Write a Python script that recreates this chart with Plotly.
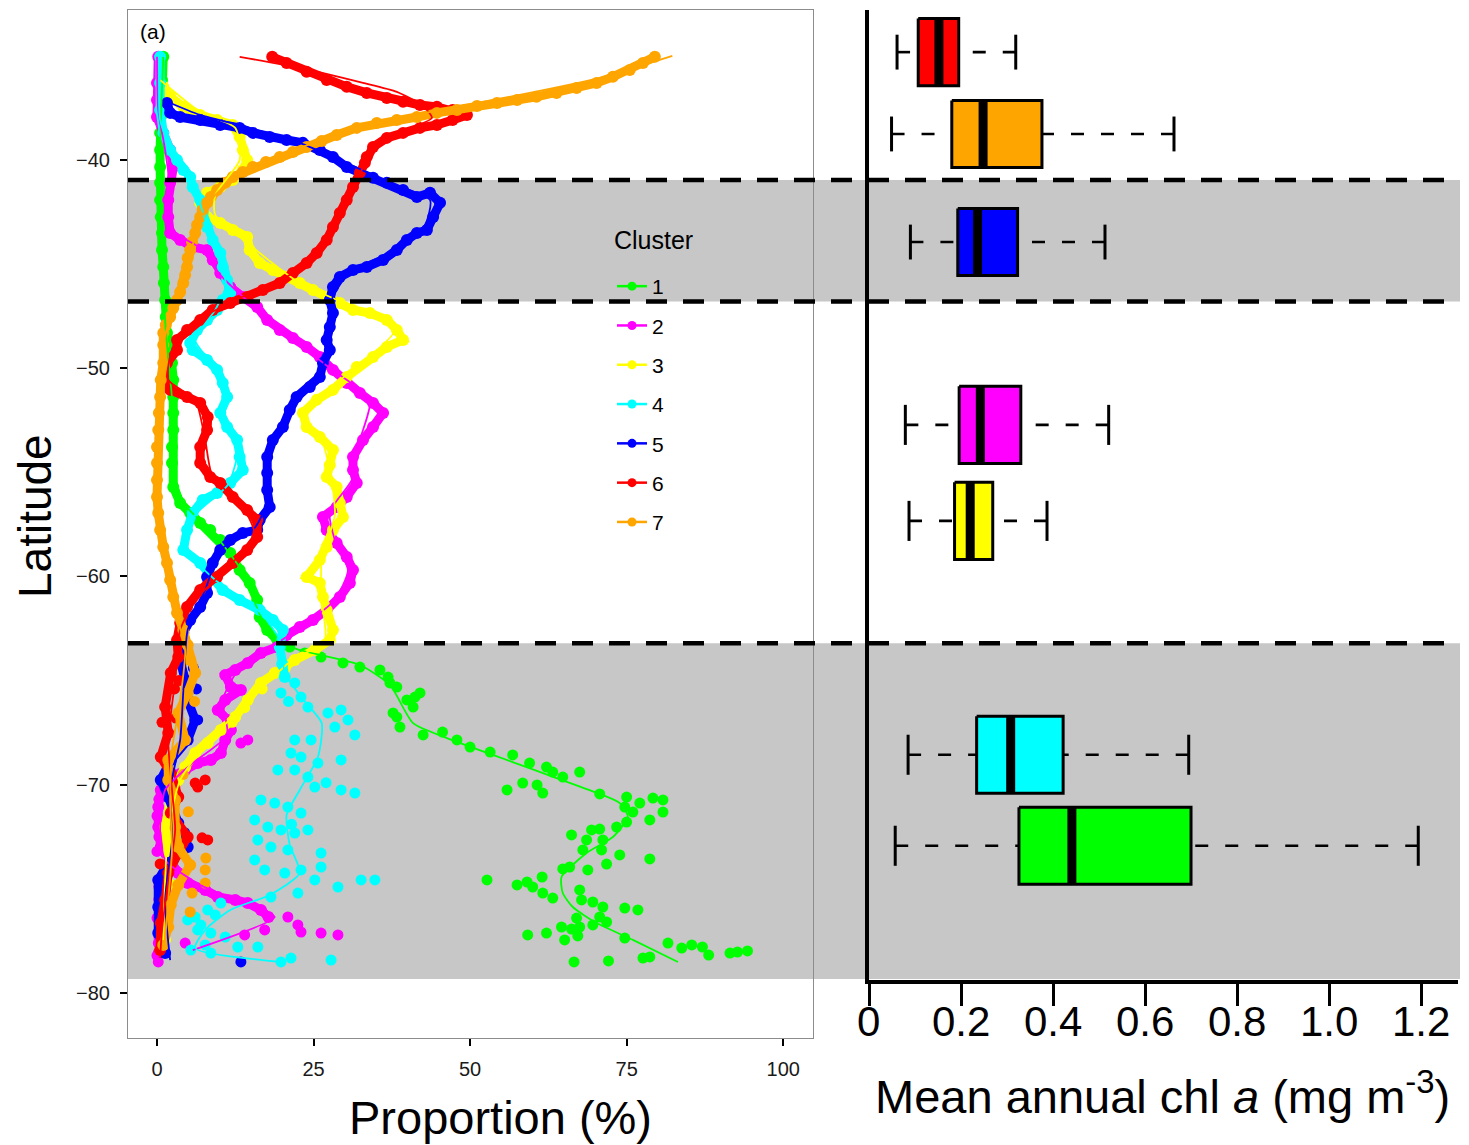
import plotly.graph_objects as go

W, H = 1469, 1145
FONT = "Liberation Sans, Arial, Helvetica, sans-serif"

# ---------------- data ----------------
cluster_names = ["1", "2", "3", "4", "5", "6", "7"]
cluster_colors = ["#00FF00", "#FF00FF", "#FFFF00", "#00FFFF", "#0000FF", "#FF0000", "#FFA500"]

# (latitude, proportion %) read along each cluster's dense chain of points
c1_chain = [(-35.05, 1.0), (-36.16, 0.8), (-37.12, 0.8), (-37.94, 0.6), (-38.70, 0.5), (-39.52, 0.5),
            (-40.34, 0.5), (-41.10, 0.5), (-41.92, 0.5), (-42.74, 0.6), (-43.51, 0.8), (-44.32, 0.8),
            (-45.14, 1.0), (-45.91, 1.1), (-46.72, 1.3), (-47.54, 1.4), (-48.31, 1.6), (-48.98, 2.1),
            (-49.75, 2.4), (-50.56, 2.6), (-51.38, 2.6), (-52.15, 2.6), (-52.97, 2.6), (-53.78, 2.4),
            (-54.55, 2.4), (-55.70, 2.6), (-56.47, 3.7), (-56.95, 5.3), (-57.43, 6.9), (-57.77, 8.5),
            (-58.25, 10.1), (-58.87, 11.7), (-59.69, 13.2), (-60.31, 14.8), (-61.13, 16.0), (-61.94, 16.4),
            (-62.57, 17.6), (-63.05, 19.2)]
c1_scatter = [(-63.39, 21.2), (-63.67, 23.6), (-63.87, 26.2), (-64.15, 29.7), (-64.35, 32.4), (-64.49, 35.6),
              (-64.83, 36.9), (-65.11, 37.2), (-65.31, 38.3), (-65.79, 41.2), (-65.93, 39.9), (-65.59, 42.0),
              (-66.27, 40.9), (-66.55, 37.7), (-66.75, 38.3), (-67.23, 38.8), (-67.61, 42.5), (-67.47, 45.6),
              (-67.85, 47.9), (-68.19, 50.0), (-68.43, 53.2), (-68.57, 56.8), (-68.96, 59.5), (-69.15, 62.2),
              (-69.39, 63.2), (-69.63, 64.8), (-69.39, 67.5), (-70.25, 55.9), (-69.92, 58.4), (-70.01, 60.7),
              (-70.40, 61.6), (-70.44, 70.7), (-70.59, 75.0), (-70.88, 77.1), (-70.64, 79.2), (-70.73, 80.8),
              (-71.07, 74.7), (-71.31, 76.0), (-71.31, 80.8), (-71.69, 78.7), (-71.79, 75.0), (-72.03, 73.4),
              (-72.13, 70.7), (-72.17, 69.4), (-72.41, 66.2), (-72.65, 68.6), (-72.65, 71.2), (-73.13, 68.0),
              (-73.13, 71.0), (-73.37, 73.9), (-73.81, 71.8), (-74.04, 64.8), (-73.95, 65.9), (-74.09, 68.8),
              (-73.56, 78.7), (-74.57, 52.7), (-74.81, 57.5), (-74.67, 59.1), (-74.43, 61.5), (-74.91, 60.0),
              (-75.20, 61.6), (-75.44, 63.2), (-75.05, 67.5), (-75.53, 67.8), (-75.63, 69.6), (-75.87, 71.2),
              (-75.92, 74.7), (-76.01, 76.8), (-76.40, 67.0), (-76.35, 70.7), (-76.59, 71.8), (-76.73, 69.6),
              (-76.83, 67.5), (-77.21, 59.2), (-77.12, 62.2), (-76.83, 64.6), (-76.93, 66.2), (-77.45, 65.1),
              (-77.26, 67.2), (-77.36, 74.7), (-77.60, 81.6), (-77.84, 83.8), (-77.69, 85.4), (-77.79, 87.1),
              (-78.18, 88.1), (-78.08, 91.5), (-78.03, 92.7), (-77.98, 94.3), (-78.32, 77.6), (-78.27, 78.7),
              (-78.46, 72.1), (-78.51, 66.6)]
c1_fit = [(-35.05, 1.0), (-39.52, 0.5), (-44.32, 0.8), (-48.16, 1.4), (-51.52, 2.4), (-54.89, 2.6),
          (-56.57, 4.5), (-58.01, 9.3), (-59.93, 14.0), (-61.61, 16.1), (-63.05, 18.8), (-63.53, 22.8),
          (-64.25, 32.4), (-65.21, 37.2), (-67.04, 40.9), (-67.76, 46.3), (-68.91, 56.8), (-69.68, 63.8),
          (-70.44, 70.7), (-70.88, 73.9), (-71.55, 75.2), (-72.51, 72.8), (-73.28, 68.6), (-74.43, 64.6),
          (-75.20, 64.8), (-75.87, 66.4), (-76.64, 70.2), (-77.45, 76.0), (-78.51, 83.2)]

c2_chain = [(-35.05, 0.2), (-36.30, 0.0), (-37.12, 0.0), (-37.94, 0.0), (-38.70, 1.0), (-39.52, 2.1),
            (-40.34, 2.6), (-41.10, 2.1), (-41.92, 1.8), (-42.74, 1.8), (-43.51, 2.1), (-43.84, 3.7),
            (-44.18, 5.7), (-44.32, 8.0), (-44.80, 8.9), (-45.43, 10.1), (-46.10, 11.7), (-46.58, 13.7),
            (-47.06, 16.0), (-47.68, 17.6), (-48.16, 19.6), (-48.55, 21.7), (-48.98, 23.9), (-49.46, 26.0),
            (-50.08, 28.1), (-50.71, 30.3), (-51.19, 32.4), (-51.67, 34.5), (-52.15, 36.1), (-52.82, 34.5),
            (-53.45, 32.9), (-54.26, 31.3), (-54.89, 31.3), (-55.51, 31.9), (-56.18, 30.3), (-56.66, 28.7),
            (-57.14, 26.5), (-57.77, 27.1), (-58.39, 28.7), (-59.06, 30.3), (-59.69, 31.3), (-60.31, 30.8),
            (-60.98, 29.2), (-61.61, 27.1), (-62.09, 24.9), (-62.43, 22.8), (-62.81, 20.7), (-63.39, 19.2),
            (-63.67, 16.6), (-64.15, 14.5), (-64.49, 12.5), (-64.73, 10.9), (-65.31, 11.8), (-65.45, 13.4),
            (-65.93, 10.9), (-66.41, 9.7), (-66.89, 11.3), (-67.37, 11.8), (-67.85, 10.9), (-68.48, 10.2),
            (-68.81, 8.6), (-68.96, 6.5), (-69.29, 4.5), (-69.63, 2.2), (-70.25, 0.6), (-71.07, 0.2),
            (-72.03, 0.2), (-72.99, 0.6), (-73.61, 1.8), (-74.24, 3.4), (-74.72, 4.9), (-75.05, 7.7),
            (-75.39, 9.7), (-75.53, 12.5), (-75.68, 14.5), (-76.01, 16.6), (-76.35, 17.8)]
c2_scatter = [(-68.00, 13.4), (-67.85, 14.5), (-76.35, 20.9), (-76.73, 22.5), (-77.07, 23.0), (-77.12, 26.2),
              (-77.21, 28.9), (-76.97, 17.2), (-77.21, 14.0), (-77.60, 4.5), (-78.08, 0.2), (-78.51, 0.2),
              (-77.60, 0.2), (-76.90, 0.4), (-75.90, 0.2), (-74.90, 0.3), (-70.70, 0.3), (-71.50, 0.0),
              (-72.50, 0.3), (-73.20, 0.0), (-74.60, 0.2), (-75.50, 0.3), (-76.40, 0.0), (-77.30, 0.3),
              (-78.20, 0.0), (-70.0, 3.0), (-71.9, 1.5)]
c2_fit = [(-35.05, 0.0), (-37.60, 0.2), (-39.52, 1.3), (-41.44, 2.1), (-43.36, 2.4), (-44.23, 6.9),
          (-45.52, 10.1), (-46.87, 14.8), (-48.31, 20.4), (-49.99, 27.6), (-51.52, 34.0), (-53.45, 32.4),
          (-55.37, 31.1), (-56.90, 27.6), (-58.25, 28.4), (-59.69, 30.5), (-61.13, 28.4), (-62.47, 22.8),
          (-63.43, 18.0), (-64.39, 13.2), (-65.93, 10.5), (-67.61, 11.2), (-69.05, 5.3), (-70.25, 1.3),
          (-72.17, 0.5), (-73.61, 1.3), (-74.81, 6.9), (-75.77, 14.8), (-76.35, 18.8), (-77.94, 5.7)]

c3_chain = [(-36.49, 1.0), (-36.97, 2.1), (-37.45, 4.2), (-37.84, 6.9), (-38.08, 9.6), (-38.32, 12.1),
            (-38.90, 13.2), (-39.52, 13.7), (-40.00, 14.4), (-40.48, 13.7), (-40.96, 12.1), (-41.30, 10.1),
            (-41.58, 8.0), (-42.06, 6.9), (-42.74, 8.0), (-43.03, 10.1), (-43.36, 12.1), (-43.70, 14.4),
            (-44.32, 14.8), (-44.95, 16.4), (-45.28, 18.5), (-45.62, 20.7), (-45.91, 22.8), (-46.24, 24.9),
            (-46.58, 27.1), (-46.87, 29.2), (-47.20, 31.3), (-47.35, 34.0), (-47.68, 36.7), (-48.16, 38.3),
            (-48.64, 39.3), (-48.98, 36.7), (-49.46, 34.5), (-49.94, 31.9), (-50.42, 30.3), (-51.04, 28.1),
            (-51.52, 25.5), (-52.15, 23.3), (-52.82, 23.9), (-53.30, 26.0), (-53.93, 28.1), (-54.65, 27.6),
            (-55.22, 27.1), (-55.70, 28.7), (-56.47, 29.2), (-57.14, 29.7), (-57.77, 28.1), (-58.58, 27.1),
            (-59.21, 26.0), (-60.02, 23.9), (-60.31, 26.0), (-60.98, 26.5), (-61.61, 27.1), (-62.57, 28.1),
            (-63.05, 27.6), (-63.53, 25.2), (-64.01, 22.0), (-64.63, 18.8), (-65.11, 16.6), (-65.93, 14.5),
            (-66.75, 12.5), (-67.37, 10.2), (-68.00, 8.1), (-68.48, 6.1), (-69.15, 4.5), (-69.77, 3.4),
            (-70.73, 2.2), (-72.03, 1.3), (-73.28, 1.8), (-74.24, 1.3), (-75.20, 0.6), (-76.49, 0.6),
            (-77.45, 1.3)]
c3_scatter = [(-64.4, 20.5), (-65.4, 16.8), (-66.3, 14.0), (-67.0, 12.0), (-71.4, 2.5), (-74.8, 2.3),
              (-76.0, 1.8), (-77.9, 0.8)]
c3_fit = [(-36.16, 0.5), (-37.69, 6.9), (-38.46, 12.5), (-40.00, 13.2), (-41.68, 9.3), (-42.64, 9.3),
          (-44.08, 14.8), (-45.91, 22.8), (-47.20, 32.4), (-48.16, 38.0), (-49.84, 32.4), (-51.28, 26.0),
          (-52.25, 22.8), (-53.45, 26.3), (-55.37, 27.9), (-57.05, 28.4), (-59.21, 26.3), (-61.13, 26.3),
          (-63.05, 26.8), (-64.11, 21.2), (-65.93, 14.8), (-68.09, 7.7), (-69.77, 3.7), (-72.17, 1.8),
          (-74.57, 1.3), (-77.45, 1.0)]

c4_chain = [(-35.05, 0.5), (-36.30, 0.5), (-37.60, 0.5), (-38.70, 1.0), (-39.52, 2.1), (-40.00, 3.2),
            (-40.48, 4.2), (-40.82, 5.3), (-41.30, 5.7), (-41.92, 6.9), (-42.55, 7.3), (-43.22, 8.0),
            (-43.84, 8.9), (-44.47, 10.1), (-45.14, 10.5), (-45.76, 11.2), (-46.39, 11.7), (-46.72, 10.5),
            (-47.20, 9.6), (-47.68, 8.0), (-48.16, 6.4), (-48.79, 5.3), (-49.12, 5.7), (-49.60, 8.0),
            (-50.08, 9.6), (-50.71, 10.5), (-51.38, 11.2), (-52.15, 10.1), (-52.82, 11.2), (-53.45, 12.8),
            (-54.26, 13.2), (-54.89, 13.7), (-55.51, 11.7), (-55.99, 9.6), (-56.33, 7.3), (-56.95, 5.7),
            (-57.77, 4.8), (-58.73, 4.2), (-59.35, 6.9), (-60.02, 8.9), (-60.65, 10.5), (-61.13, 13.2),
            (-61.61, 16.4), (-62.09, 18.5), (-62.57, 20.1), (-63.39, 19.6), (-64.20, 20.0), (-64.83, 20.4)]
c4_scatter = [(-65.11, 22.0), (-65.59, 19.8), (-65.79, 23.0), (-66.27, 24.1), (-66.55, 27.3), (-66.41, 29.4),
              (-66.89, 30.5), (-67.23, 28.4), (-67.61, 31.6), (-67.85, 22.0), (-67.85, 24.6), (-68.48, 21.4),
              (-68.67, 23.0), (-68.96, 25.7), (-68.81, 29.4), (-69.29, 19.3), (-69.29, 22.0), (-69.63, 24.1),
              (-70.11, 25.2), (-70.25, 29.4), (-70.40, 31.6), (-70.73, 16.6), (-70.88, 18.8), (-71.07, 20.9),
              (-71.36, 23.0), (-71.69, 15.6), (-72.03, 17.7), (-72.17, 19.8), (-72.32, 22.0), (-72.17, 24.1),
              (-72.65, 16.1), (-72.99, 18.2), (-73.13, 20.9), (-73.28, 26.2), (-73.61, 15.6), (-74.09, 17.2),
              (-74.24, 20.4), (-74.09, 23.0), (-73.95, 26.2), (-74.57, 25.2), (-74.91, 28.9), (-74.57, 32.6),
              (-74.57, 34.8), (-75.20, 22.5), (-75.39, 18.2), (-75.68, 10.2), (-76.01, 8.1), (-76.35, 6.1),
              (-76.97, 6.5), (-77.12, 8.6), (-77.94, 5.4), (-78.08, 8.6), (-77.79, 12.9), (-77.79, 16.1),
              (-78.51, 19.8), (-78.32, 21.4), (-78.42, 27.8), (-76.49, 4.9), (-76.73, 7.0), (-76.25, 9.3),
              (-77.69, 7.7), (-77.31, 10.9), (-66.0, 21.0), (-69.9, 27.0), (-71.9, 21.5)]
c4_fit = [(-35.05, 0.5), (-38.08, 0.5), (-40.00, 2.9), (-41.44, 6.1), (-42.88, 7.7), (-44.56, 9.7),
          (-46.00, 11.0), (-47.20, 9.3), (-48.64, 6.1), (-49.70, 8.5), (-51.04, 10.9), (-52.49, 10.9),
          (-53.93, 12.9), (-55.61, 11.3), (-57.05, 6.1), (-58.73, 4.9), (-60.17, 9.3), (-61.70, 16.4),
          (-63.05, 19.6), (-64.59, 20.4), (-65.79, 23.0), (-67.04, 26.3), (-68.67, 25.7), (-70.25, 22.8),
          (-71.45, 20.7), (-72.89, 21.2), (-74.24, 22.8), (-75.29, 18.0), (-76.01, 11.7), (-76.97, 7.7),
          (-77.84, 6.1), (-78.51, 19.8)]

c5_chain = [(-37.26, 1.6), (-37.74, 2.1), (-37.94, 3.7), (-38.08, 6.9), (-38.32, 10.1), (-38.46, 13.2),
            (-38.70, 15.3), (-38.90, 18.0), (-39.04, 20.7), (-39.18, 23.3), (-39.52, 26.0), (-39.86, 28.1),
            (-40.34, 30.3), (-40.62, 32.4), (-40.86, 34.5), (-41.10, 36.7), (-41.44, 39.3), (-41.78, 41.5),
            (-41.58, 43.6), (-42.06, 45.2), (-42.74, 44.1), (-43.36, 43.1), (-43.51, 41.5), (-43.84, 39.9),
            (-44.32, 38.3), (-44.80, 36.1), (-45.14, 33.5), (-45.28, 31.3), (-45.62, 29.2), (-46.10, 28.1),
            (-46.72, 27.6), (-47.35, 28.1), (-48.02, 27.6), (-48.64, 27.1), (-49.12, 27.6), (-49.75, 26.5),
            (-50.42, 26.0), (-50.90, 24.4), (-51.38, 22.3), (-52.01, 21.2), (-52.82, 20.1), (-53.45, 18.5),
            (-54.26, 17.6), (-55.03, 17.6), (-55.85, 17.6), (-56.66, 18.0), (-57.29, 16.4), (-57.77, 16.0),
            (-57.91, 13.7), (-58.25, 11.7), (-58.73, 10.1), (-59.35, 8.9), (-60.02, 8.0), (-60.79, 8.0),
            (-61.46, 6.9), (-62.09, 5.3), (-62.71, 4.2), (-63.39, 4.8), (-64.15, 3.8), (-64.97, 4.5),
            (-65.93, 4.9), (-66.89, 6.1), (-67.85, 4.9), (-68.81, 2.2), (-69.77, 0.6), (-70.59, 1.8),
            (-71.84, 3.4), (-72.99, 4.9), (-73.76, 1.8), (-74.57, 0.2), (-75.87, 0.2), (-77.12, 0.2),
            (-78.08, 1.3)]
c5_scatter = [(-78.51, 13.4), (-66.89, 6.5), (-65.4, 6.3), (-64.4, 5.8), (-71.2, 2.6), (-72.3, 4.4),
              (-76.5, 0.6), (-77.6, 0.8), (-75.2, 0.4)]
c5_fit = [(-37.12, 1.0), (-37.84, 6.9), (-38.46, 14.8), (-39.18, 22.8), (-40.00, 29.2), (-41.10, 37.2),
          (-41.92, 43.6), (-43.12, 42.8), (-44.32, 38.0), (-45.38, 30.8), (-46.72, 27.9), (-48.64, 27.6),
          (-50.56, 25.7), (-52.01, 21.2), (-53.93, 18.0), (-56.33, 17.7), (-57.67, 15.6), (-58.73, 10.1),
          (-60.65, 7.7), (-62.57, 4.9), (-64.97, 4.3), (-67.85, 3.7), (-70.25, 2.1), (-72.65, 2.4),
          (-75.53, 1.3), (-78.42, 2.1)]

c6_chain = [(-35.05, 18.4), (-35.34, 20.7), (-35.77, 23.9), (-36.16, 27.1), (-36.49, 30.3), (-36.78, 33.5),
            (-37.02, 36.7), (-37.21, 39.3), (-37.36, 42.0), (-37.45, 44.7), (-37.60, 47.2), (-37.84, 49.5),
            (-38.08, 47.2), (-38.32, 44.7), (-38.46, 42.0), (-38.70, 39.3), (-38.94, 36.7), (-39.38, 34.5),
            (-39.86, 33.5), (-40.14, 33.2), (-40.62, 32.4), (-41.30, 31.3), (-41.92, 30.3), (-42.55, 29.2),
            (-43.22, 28.1), (-43.84, 27.1), (-44.47, 25.5), (-44.95, 23.9), (-45.43, 21.7), (-45.91, 19.6),
            (-46.24, 16.9), (-46.58, 14.4), (-46.87, 11.7), (-47.20, 8.9), (-47.68, 6.9), (-48.16, 4.8),
            (-48.64, 3.2), (-49.12, 3.2), (-49.75, 1.6), (-50.42, 1.0), (-51.04, 2.1), (-51.38, 4.8),
            (-51.67, 6.9), (-52.34, 8.1), (-52.97, 8.0), (-53.78, 6.9), (-54.55, 6.9), (-55.22, 8.5),
            (-55.51, 10.1), (-56.18, 12.1), (-56.81, 14.4), (-57.29, 16.0), (-58.10, 16.0), (-58.73, 14.4),
            (-59.35, 12.1), (-60.02, 9.6), (-60.65, 6.9), (-61.46, 4.8), (-62.23, 3.7), (-63.05, 3.2),
            (-63.87, 3.4), (-64.63, 2.2), (-66.27, 1.3), (-67.51, 1.8), (-68.67, 0.6), (-69.44, 2.2),
            (-70.59, 3.4), (-71.36, 2.2), (-72.51, 4.9), (-73.28, 3.4), (-74.24, 1.8), (-75.53, 1.3),
            (-76.64, 0.6), (-77.94, 0.5)]
c6_scatter = [(-69.92, 6.1), (-69.77, 7.7), (-70.11, 6.5), (-72.65, 8.1), (-72.55, 7.2), (-65.4, 2.8),
              (-66.8, 3.0), (-67.0, 0.8), (-73.8, 0.5), (-65.0, 3.5)]
c6_fit = [(-35.05, 13.2), (-35.58, 22.8), (-36.30, 32.9), (-36.73, 38.3), (-37.41, 42.5), (-37.98, 43.9),
          (-38.70, 38.8), (-39.52, 34.3), (-40.48, 32.7), (-42.16, 30.0), (-44.08, 26.8), (-45.52, 21.2),
          (-46.63, 13.2), (-47.78, 6.1), (-49.12, 2.4), (-50.56, 1.8), (-51.52, 6.1), (-53.45, 7.7),
          (-55.13, 8.8), (-56.81, 14.0), (-58.01, 15.6), (-59.69, 10.9), (-61.13, 6.1), (-62.57, 3.7),
          (-64.97, 2.9), (-67.85, 1.8), (-70.25, 2.4), (-72.17, 2.9), (-74.57, 1.8), (-76.97, 0.8),
          (-78.32, 0.5)]

c7_chain = [(-35.05, 79.5), (-35.34, 77.6), (-35.68, 75.5), (-36.01, 72.8), (-36.30, 70.2), (-36.54, 67.0),
            (-36.78, 63.8), (-36.97, 60.6), (-37.12, 57.5), (-37.26, 54.3), (-37.41, 51.1), (-37.60, 47.9),
            (-37.74, 44.7), (-37.94, 41.5), (-38.08, 38.3), (-38.22, 35.1), (-38.46, 31.9), (-38.80, 28.7),
            (-39.09, 26.3), (-39.38, 23.9), (-39.62, 21.7), (-39.86, 19.6), (-40.10, 17.4), (-40.34, 15.3),
            (-40.58, 13.7), (-40.82, 12.1), (-41.10, 10.9), (-41.44, 9.6), (-41.78, 8.6), (-42.06, 8.0),
            (-42.40, 7.3), (-42.74, 6.9), (-43.12, 6.4), (-43.51, 6.1), (-43.94, 5.6), (-44.32, 5.3),
            (-44.71, 4.9), (-45.14, 4.8), (-45.52, 4.5), (-45.91, 4.2), (-46.34, 3.7), (-46.72, 3.2),
            (-47.11, 2.6), (-47.54, 2.1), (-47.92, 1.4), (-48.31, 1.0), (-48.88, 1.0), (-49.75, 1.0),
            (-50.56, 0.6), (-51.38, 0.5), (-52.15, 0.3), (-52.97, 0.2), (-53.78, 0.0), (-54.55, 0.0),
            (-55.37, 0.0), (-56.18, 0.0), (-56.95, 0.2), (-57.77, 0.5), (-58.58, 1.0), (-59.35, 1.6),
            (-60.17, 2.1), (-60.98, 2.6), (-61.75, 3.2), (-62.57, 4.2), (-63.29, 4.9), (-64.01, 5.3),
            (-64.63, 6.1), (-65.59, 4.9), (-66.55, 3.4), (-67.85, 4.5), (-68.81, 1.8), (-69.77, 1.8),
            (-70.73, 2.9), (-72.03, 2.9), (-72.99, 3.4), (-73.85, 5.3), (-74.81, 3.4), (-75.77, 2.2),
            (-76.83, 1.8), (-77.69, 1.0)]
c7_scatter = [(-74.09, 7.7), (-74.72, 7.7), (-76.11, 5.3), (-73.52, 7.8), (-71.3, 5.0), (-69.5, 4.2),
              (-66.0, 6.0), (-75.2, 5.6)]
c7_fit = [(-35.00, 82.3), (-36.06, 70.7), (-36.88, 57.9), (-37.60, 45.2), (-38.18, 35.6), (-38.94, 27.6),
          (-39.76, 19.6), (-40.72, 13.2), (-41.68, 9.3), (-42.88, 6.9), (-44.56, 5.3), (-46.00, 4.2),
          (-47.59, 2.1), (-48.88, 1.0), (-51.52, 0.5), (-54.89, 0.0), (-57.29, 0.3), (-59.69, 1.8),
          (-62.09, 3.4), (-63.53, 4.5), (-65.93, 3.7), (-68.33, 2.4), (-70.73, 2.1), (-73.13, 2.4),
          (-75.53, 1.8), (-77.45, 1.3)]

chains = [c1_chain, c2_chain, c3_chain, c4_chain, c5_chain, c6_chain, c7_chain]
scatters = [c1_scatter, c2_scatter, c3_scatter, c4_scatter, c5_scatter, c6_scatter, c7_scatter]
fits = [c1_fit, c2_fit, c3_fit, c4_fit, c5_fit, c6_fit, c7_fit]

# latitude boundaries of the shaded zones
band_edges_lat = [(-40.96, -46.80), (-63.20, -79.33)]

# box plot statistics, mean annual chl a (mg m-3), top to bottom
box_cluster = ["6", "7", "5", "2", "3", "4", "1"]
box_lat = [-34.82, -38.75, -43.94, -52.72, -57.33, -68.56, -72.93]
box_lo = [0.061, 0.049, 0.090, 0.079, 0.087, 0.085, 0.057]
box_q1 = [0.107, 0.180, 0.193, 0.196, 0.186, 0.234, 0.326]
box_med = [0.152, 0.248, 0.236, 0.242, 0.220, 0.308, 0.441]
box_q3 = [0.195, 0.376, 0.323, 0.330, 0.269, 0.422, 0.700]
box_hi = [0.319, 0.663, 0.513, 0.521, 0.387, 0.695, 1.194]

left_xticks = [0, 25, 50, 75, 100]
left_yticks = [-40, -50, -60, -70, -80]
right_xticks = [0, 0.2, 0.4, 0.6, 0.8, 1.0, 1.2]
right_xticktext = ["0", "0.2", "0.4", "0.6", "0.8", "1.0", "1.2"]

# ---------------- styling / layout helpers ----------------
def px_x(p):
    return p / W

def px_y(p):
    return 1 - p / H

box_half = [1.61, 1.61, 1.61, 1.85, 1.85, 1.85, 1.85]
color_of = dict(zip(cluster_names, cluster_colors))

fig = go.Figure()

# points
for i in range(7):
    col = cluster_colors[i]
    lat, pct = zip(*chains[i])
    fig.add_trace(go.Scatter(x=list(pct), y=list(lat), mode="lines+markers",
                             line=dict(color=col, width=9), marker=dict(size=12, color=col),
                             showlegend=False, hoverinfo="skip", xaxis="x", yaxis="y"))
    if scatters[i]:
        lat, pct = zip(*scatters[i])
        fig.add_trace(go.Scatter(x=list(pct), y=list(lat), mode="markers",
                                 marker=dict(size=11, color=col),
                                 showlegend=False, hoverinfo="skip", xaxis="x", yaxis="y"))
# smooth lines
for i in range(7):
    col = cluster_colors[i]
    lat, pct = zip(*fits[i])
    fig.add_trace(go.Scatter(x=list(pct), y=list(lat), mode="lines",
                             line=dict(color=col, width=1.8, shape="spline", smoothing=0.6),
                             showlegend=False, hoverinfo="skip", xaxis="x", yaxis="y"))
# legend entries
for i in range(7):
    fig.add_trace(go.Scatter(x=[None], y=[None], mode="lines+markers", name=cluster_names[i],
                             legendgroup=cluster_names[i],
                             line=dict(color=cluster_colors[i], width=2.5),
                             marker=dict(size=9, color=cluster_colors[i]),
                             showlegend=True, xaxis="x", yaxis="y"))

# box plots
for k in range(len(box_cluster)):
    c = box_lat[k]
    h = box_half[k]
    cap = 0.52 * h
    col = color_of[box_cluster[k]]
    # whiskers drawn from the cap towards the box (dashed)
    for a, b in [(box_lo[k], box_q1[k]), (box_hi[k], box_q3[k])]:
        fig.add_trace(go.Scatter(x=[a, b], y=[c, c], mode="lines",
                                 line=dict(color="black", width=2.6, dash="13px,17px"),
                                 showlegend=False, hoverinfo="skip", xaxis="x2", yaxis="y2"))
    for v in [box_lo[k], box_hi[k]]:
        fig.add_trace(go.Scatter(x=[v, v], y=[c - cap, c + cap], mode="lines",
                                 line=dict(color="black", width=3),
                                 showlegend=False, hoverinfo="skip", xaxis="x2", yaxis="y2"))
    fig.add_trace(go.Scatter(x=[box_q1[k], box_q3[k], box_q3[k], box_q1[k], box_q1[k]],
                             y=[c + h, c + h, c - h, c - h, c + h], mode="lines", fill="toself",
                             fillcolor=col, line=dict(color="black", width=3),
                             showlegend=False, hoverinfo="skip", xaxis="x2", yaxis="y2"))
    fig.add_trace(go.Scatter(x=[box_med[k], box_med[k]], y=[c - h, c + h], mode="lines",
                             line=dict(color="black", width=9),
                             showlegend=False, hoverinfo="skip", xaxis="x2", yaxis="y2"))

shapes = []
for (y0, y1) in band_edges_lat:
    shapes.append(dict(type="rect", xref="paper", yref="y", x0=px_x(128), x1=px_x(1460),
                       y0=y0, y1=y1, fillcolor="#C7C7C7", line=dict(width=0), layer="below"))
for yv in [band_edges_lat[0][0], band_edges_lat[0][1], band_edges_lat[1][0]]:
    shapes.append(dict(type="line", xref="paper", yref="y", x0=px_x(128), x1=px_x(1460),
                       y0=yv, y1=yv, line=dict(color="black", width=4.5, dash="21px,16px"),
                       layer="above"))

annotations = [
    dict(text="(a)", x=px_x(138), y=px_y(32), xref="paper", yref="paper", xanchor="left",
         yanchor="middle", showarrow=False, font=dict(size=21, color="black", family=FONT)),
    dict(text="Latitude", x=px_x(35), y=px_y(516), xref="paper", yref="paper", textangle=-90,
         xanchor="center", yanchor="middle", showarrow=False,
         font=dict(size=46, color="black", family=FONT)),
    dict(text="Proportion (%)", x=px_x(500), y=px_y(1117), xref="paper", yref="paper",
         xanchor="center", yanchor="middle", showarrow=False,
         font=dict(size=47, color="black", family=FONT)),
    dict(text="Mean annual chl <i>a</i> (mg m<sup>-3</sup>)", x=px_x(1162), y=px_y(1093),
         xref="paper", yref="paper", xanchor="center", yanchor="middle", showarrow=False,
         font=dict(size=47, color="black", family=FONT)),
    dict(text="Cluster", x=px_x(612), y=px_y(240), xref="paper", yref="paper",
         xanchor="left", yanchor="middle", showarrow=False,
         font=dict(size=25, color="black", family=FONT)),
]
for v, t in zip(right_xticks, right_xticktext):
    annotations.append(dict(text=t, x=v, y=px_y(1021), xref="x2", yref="paper",
                            xanchor="center", yanchor="middle", showarrow=False,
                            font=dict(size=42, color="black", family=FONT)))

fig.update_layout(
    template="none",
    width=W, height=H, autosize=False,
    margin=dict(l=0, r=0, t=0, b=0, pad=0),
    paper_bgcolor="white", plot_bgcolor="rgba(0,0,0,0)",
    font=dict(family=FONT, color="black"),
    showlegend=True,
    legend=dict(x=px_x(612), y=px_y(266), xanchor="left", yanchor="top",
                bgcolor="rgba(0,0,0,0)", borderwidth=0,
                font=dict(size=21, color="black", family=FONT),
                tracegroupgap=9, itemwidth=30),
    xaxis=dict(domain=[px_x(128), px_x(813)], range=[-4.63, 104.76], anchor="y",
               automargin=False, showgrid=False, zeroline=False, showline=True, mirror=True,
               linecolor="#8C8C8C", linewidth=1,
               ticks="outside", ticklen=7, tickwidth=1.6, tickcolor="black",
               tickvals=left_xticks, tickfont=dict(size=20, color="#1a1a1a"),
               ticklabelstandoff=6),
    yaxis=dict(domain=[px_y(1038), px_y(10)], range=[-82.16, -32.80], anchor="x",
               automargin=False, showgrid=False, zeroline=False, showline=True, mirror=True,
               linecolor="#8C8C8C", linewidth=1,
               ticks="outside", ticklen=7, tickwidth=1.6, tickcolor="black",
               tickvals=left_yticks, tickfont=dict(size=20, color="#1a1a1a"),
               ticklabelstandoff=6),
    xaxis2=dict(domain=[px_x(869), px_x(1458)], range=[0, 1.2804], anchor="y2",
                automargin=False, showgrid=False, zeroline=False, showline=True,
                linecolor="black", linewidth=3.5,
                ticks="outside", ticklen=22, tickwidth=3, tickcolor="black",
                tickvals=right_xticks, showticklabels=False),
    yaxis2=dict(domain=[px_y(980), px_y(10)], range=[-79.376, -32.797], anchor="x2",
                automargin=False, showgrid=False, zeroline=False, showline=True,
                linecolor="black", linewidth=3.5, showticklabels=False, ticks=""),
    shapes=shapes,
    annotations=annotations,
)

fig.write_html("out.html", config={"displayModeBar": False},
               post_script="document.body.style.margin='0';document.body.style.overflow='hidden';")
